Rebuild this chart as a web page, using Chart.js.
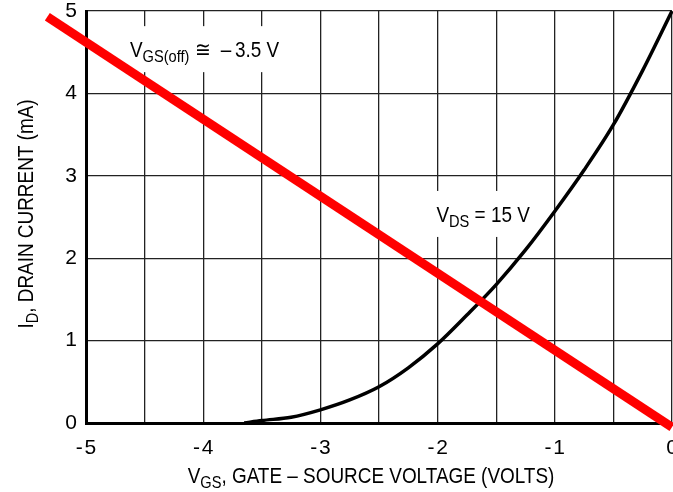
<!DOCTYPE html>
<html>
<head>
<meta charset="utf-8">
<script src="https://cdn.jsdelivr.net/npm/chart.js@4.4.1/dist/chart.umd.min.js"></script>
<style>
  html, body { margin: 0; padding: 0; background: #fff; }
  canvas { display: block; }
</style>
</head>
<body>
<canvas id="chart" width="673" height="492"></canvas>
<script>
// transfer curve (VGS in volts, ID in mA)
const vgs = [-3.65, -3.5, -3.25, -3.0, -2.75, -2.5, -2.25, -2.0, -1.75, -1.5, -1.25, -1.0, -0.75, -0.5, -0.25, 0];
const idCurve = [0, 0.03, 0.07, 0.16, 0.28, 0.44, 0.67, 0.96, 1.31, 1.68, 2.1, 2.57, 3.07, 3.62, 4.28, 5.0];

// red load line end points
const loadV = [-5.33, 0];
const loadI = [4.93, -0.05];

const xTicks = [-5, -4, -3, -2, -1, 0];
const yTicks = [0, 1, 2, 3, 4, 5];

const FONT = "'Liberation Sans', Arial, sans-serif";
const SQUEEZE = 0.86;   // the original lettering is a condensed face

function fmtX(v) {
    if (v === 0) return '0';
    return '-\u200a' + Math.abs(v);
}

function measureRich(ctx, parts, size) {
    let total = 0;
    parts.forEach(p => {
        ctx.font = (p.sub ? Math.round(size * 0.78) : size) + 'px ' + FONT;
        p.w = ctx.measureText(p.t).width;
        total += p.w;
    });
    return total * SQUEEZE;
}

// draws text runs, some of them as subscripts, squeezed sideways
function drawRich(ctx, parts, x, y, size, align) {
    const total = measureRich(ctx, parts, size);
    ctx.save();
    ctx.translate(align === 'center' ? x - total / 2 : x, y);
    ctx.scale(SQUEEZE, 1);
    ctx.textAlign = 'left';
    ctx.textBaseline = 'alphabetic';
    let cx = 0;
    parts.forEach(p => {
        ctx.font = (p.sub ? Math.round(size * 0.78) : size) + 'px ' + FONT;
        ctx.fillText(p.t, cx, p.sub ? 5 : 0);
        cx += p.w;
    });
    ctx.restore();
    return total;
}

const notes = [
    { v: -4.625, i: 4.44, parts: [{ t: 'V' }, { t: 'GS(off)', sub: true }, { t: ' \u2245  \u2013\u20093.5 V' }] },
    { v: -2.01, i: 2.44, parts: [{ t: 'V' }, { t: 'DS', sub: true }, { t: ' = 15 V' }] }
];

const textPlugin = {
    id: 'texts',
    beforeDatasetsDraw(chart) {
        const ctx = chart.ctx;
        const sx = chart.scales.x, sy = chart.scales.y;
        ctx.save();
        notes.forEach(n => {
            const px = sx.getPixelForValue(n.v);
            const py = sy.getPixelForValue(n.i);
            const w = measureRich(ctx, n.parts, 22);
            ctx.fillStyle = '#fff';
            ctx.fillRect(px - 6, py - 31, w + 12, 46);
            ctx.fillStyle = '#000';
            drawRich(ctx, n.parts, px, py, 22, 'left');
        });
        ctx.restore();
    },
    afterDraw(chart) {
        const ctx = chart.ctx;
        ctx.save();
        ctx.fillStyle = '#000';
        drawRich(ctx, [{ t: 'V' }, { t: 'GS', sub: true }, { t: ', GATE \u2013 SOURCE VOLTAGE (VOLTS)' }], 371, 483, 22, 'center');
        ctx.translate(33, 214);
        ctx.rotate(-Math.PI / 2);
        drawRich(ctx, [{ t: 'I' }, { t: 'D', sub: true }, { t: ', DRAIN CURRENT (mA)' }], 0, 0, 22, 'center');
        ctx.restore();
    }
};

new Chart(document.getElementById('chart'), {
    type: 'line',
    data: {
        datasets: [{
            data: loadV.map((v, i) => ({ x: v, y: loadI[i] })),
            borderColor: '#ff0000',
            borderWidth: 9,
            borderCapStyle: 'butt',
            pointRadius: 0,
            clip: false
        }, {
            data: vgs.map((v, i) => ({ x: v, y: idCurve[i] })),
            borderColor: '#000',
            borderWidth: 3.5,
            cubicInterpolationMode: 'monotone',
            pointRadius: 0,
            clip: false
        }]
    },
    options: {
        responsive: false,
        animation: false,
        devicePixelRatio: 1,
        layout: { padding: { top: 11, right: 1, left: 0, bottom: 0 } },
        plugins: { legend: { display: false }, tooltip: { enabled: false } },
        scales: {
            x: {
                type: 'linear',
                min: -5,
                max: 0,
                ticks: {
                    stepSize: 0.5,
                    autoSkip: false,
                    maxRotation: 0,
                    padding: 13,
                    color: '#000',
                    font: { family: FONT, size: 21 },
                    callback: v => xTicks.includes(v) ? fmtX(v) : ''
                },
                grid: { color: '#222', lineWidth: 1.3, drawTicks: false },
                border: { color: '#000', width: 3 },
                afterFit(s) { s.height = 69; s.paddingLeft = 0; s.paddingRight = 0; }
            },
            y: {
                min: 0,
                max: 5,
                afterBuildTicks(s) { s.ticks = yTicks.map(v => ({ value: v })); },
                ticks: {
                    padding: 9,
                    color: '#000',
                    font: { family: FONT, size: 21 }
                },
                grid: { color: '#222', lineWidth: 1.3, drawTicks: false },
                border: { color: '#000', width: 3 },
                afterFit(s) { s.width = 86; s.paddingTop = 0; s.paddingBottom = 0; }
            }
        }
    },
    plugins: [textPlugin]
});
</script>
</body>
</html>
